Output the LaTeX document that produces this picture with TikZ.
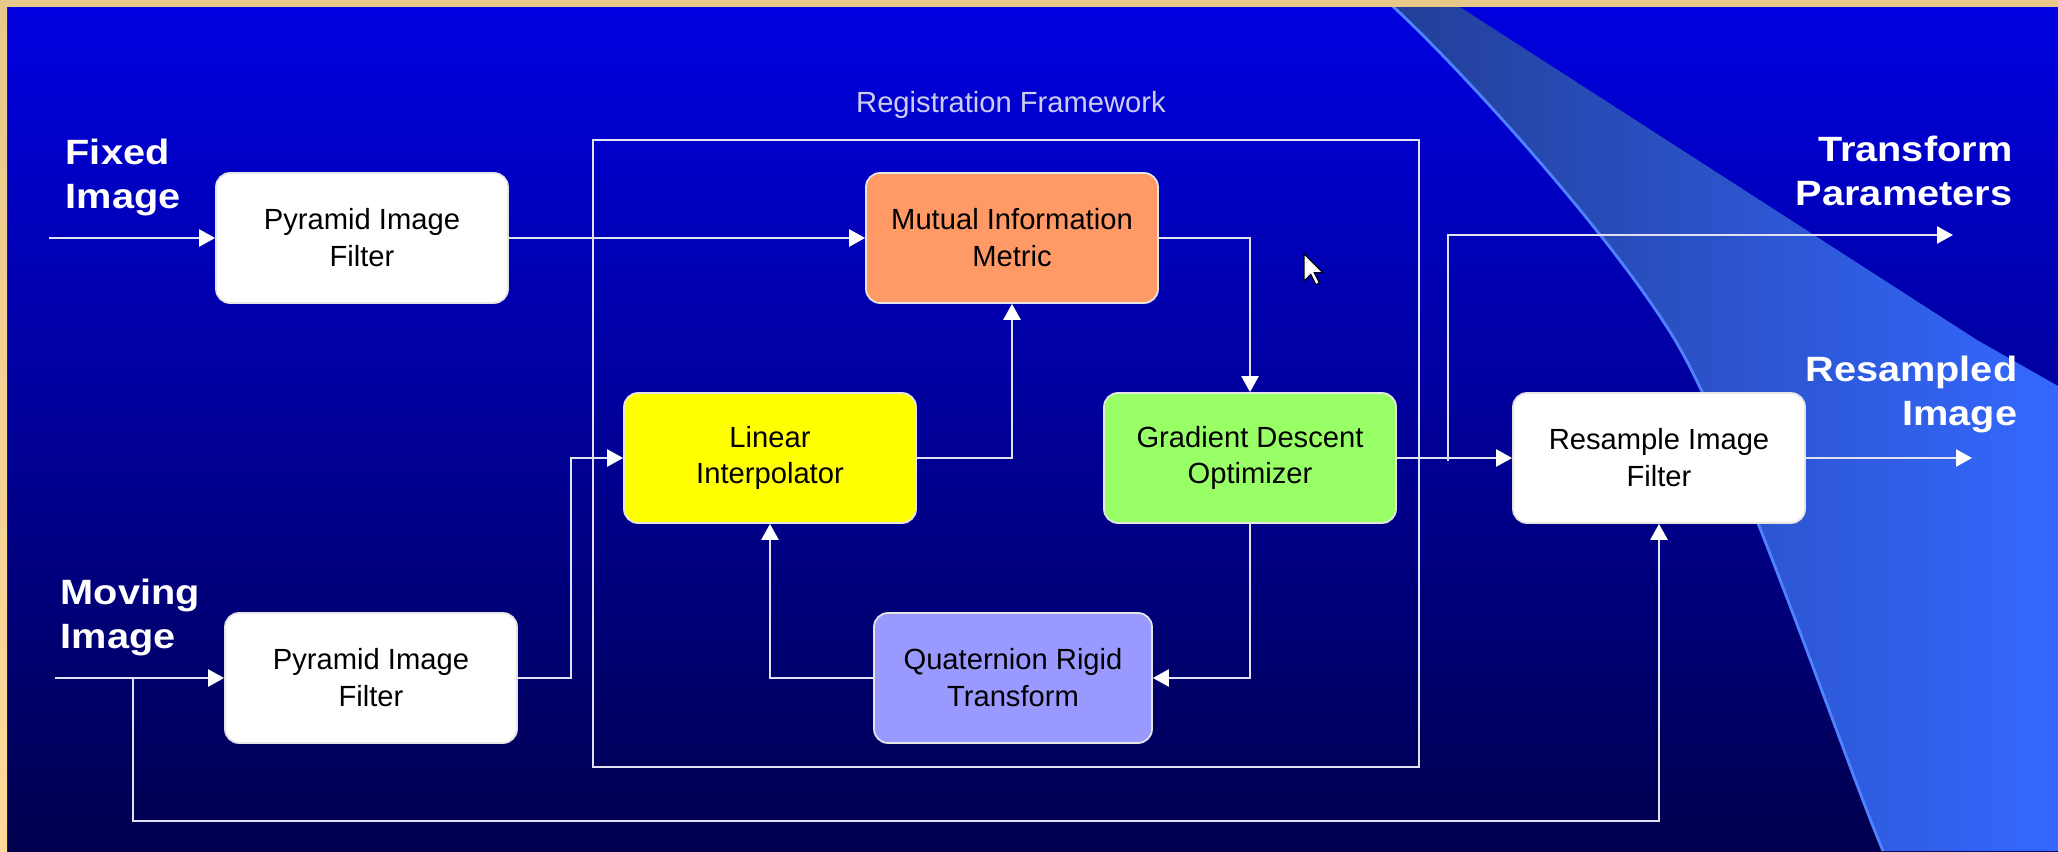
\documentclass[tikz,border=0pt]{standalone}
\usepackage{fontspec}
\setmainfont{Liberation Sans}
\newfontfamily\labelfont[FakeStretch=1.13]{Liberation Sans}
\usetikzlibrary{arrows.meta,calc}

\definecolor{bgtop}{RGB}{0,0,226}
\definecolor{bgbot}{RGB}{0,0,78}
\definecolor{framebeige}{RGB}{232,201,138}
\definecolor{framelight}{RGB}{255,218,155}
\definecolor{swdark}{RGB}{34,62,150}
\definecolor{swlight}{RGB}{52,104,255}
\definecolor{swedge}{RGB}{80,130,255}
\definecolor{wireclr}{RGB}{225,225,242}
\definecolor{fwtext}{RGB}{205,205,240}
\definecolor{metricclr}{RGB}{255,153,102}
\definecolor{interpclr}{RGB}{255,255,0}
\definecolor{optimclr}{RGB}{153,255,102}
\definecolor{rigidclr}{RGB}{153,153,255}

\begin{document}
\begin{tikzpicture}[
    block/.style={draw=gray!20, line width=0.5pt, rounded corners=0.14cm,
        minimum width=2.92cm, minimum height=1.30cm, align=center,
        inner sep=0pt, text=black, font=\fontsize{8.3}{10.5}\selectfont},
    wire/.style={draw=wireclr, line width=0.7pt},
    flow/.style={wire, -{Triangle[length=1.6mm,width=1.7mm,color=white]}},
    biglabel/.style={text=white, inner sep=0pt,
        font=\labelfont\bfseries\fontsize{10}{12.5}\selectfont}
]
    \useasboundingbox (0,0) rectangle (20.58,8.51);

    % slide background
    \shade[top color=bgtop, bottom color=bgbot] (0,0) rectangle (20.58,8.51);
    \shade[left color=swdark, right color=swlight]
        (13.86,8.51) .. controls (14.60,7.84) and (16.13,6.14) .. (16.75,5.11)
        .. controls (17.37,4.08) and (18.44,0.92) .. (18.83,0)
        -- (20.58,0) -- (20.58,4.65) -- (19.77,5.11) -- (14.49,8.51) -- cycle;
    \draw[swedge, line width=0.8pt]
        (13.86,8.51) .. controls (14.60,7.84) and (16.13,6.14) .. (16.75,5.11)
        .. controls (17.37,4.08) and (18.44,0.92) .. (18.83,0);
    \fill[framebeige] (0,8.44) rectangle (20.58,8.51);
    \shade[top color=framebeige, bottom color=framelight] (0,0) rectangle (0.07,8.51);

    % registration framework
    \draw[wire] (5.93,0.84) rectangle (14.19,7.11);
    \node[anchor=base, text=fwtext, font=\fontsize{8.3}{10}\selectfont] (fwlabel) at (10.11,7.38) {Registration Framework};

    \node[block, fill=white] (pyrfix) at (3.62,6.13) {Pyramid Image\\Filter};
    \node[block, fill=white] (pyrmov) at (3.71,1.73) {Pyramid Image\\Filter};
    \node[block, fill=metricclr] (metric) at (10.12,6.13) {Mutual Information\\Metric};
    \node[block, fill=interpclr] (interp) at (7.70,3.93) {Linear\\Interpolator};
    \node[block, fill=optimclr] (optim) at (12.50,3.93) {Gradient Descent\\Optimizer};
    \node[block, fill=rigidclr, minimum width=2.78cm] (rigid) at (10.13,1.73) {Quaternion Rigid\\Transform};
    \node[block, fill=white] (resample) at (16.59,3.93) {Resample Image\\Filter};

    \coordinate (fixin) at (0.49,6.13);
    \coordinate (movin) at (0.55,1.73);
    \coordinate (movtap) at (1.33,1.73);
    \coordinate (movlow) at (1.33,0.30);
    \coordinate (paramtap) at (14.48,3.90);
    \coordinate (paramout) at (19.53,6.16);
    \coordinate (imgout) at (19.72,3.93);

    \draw[flow] (fixin) -- (pyrfix.west);
    \draw[flow] (pyrfix.east) -- (metric.west);
    \draw[flow] (metric.east) -| (optim.north);
    \draw[flow] (interp.east) -| (metric.south);
    \draw[flow] (optim.south) |- (rigid.east);
    \draw[flow] (rigid.west) -| (interp.south);
    \draw[flow] (movin) -- (pyrmov.west);
    \draw[flow] (pyrmov.east) -- ++(0.53,0) |- (interp.west);
    \draw[flow] (optim.east) -- (resample.west);
    \draw[flow] (paramtap) |- (paramout);
    \draw[flow] (resample.east) -- (imgout);
    \draw[flow] (movtap) -- (movlow) -| (resample.south);

    \node[biglabel, anchor=north west, align=left] (fixlbl) at (0.65,7.13) {Fixed\\Image};
    \node[biglabel, anchor=north west, align=left] (movlbl) at (0.60,2.73) {Moving\\Image};
    \node[biglabel, anchor=north east, align=right] (paramlbl) at (20.13,7.16) {Transform\\Parameters};
    \node[biglabel, anchor=north east, align=right] (imglbl) at (20.18,4.96) {Resampled\\Image};

    % mouse pointer
    \begin{scope}[shift={(13.04,5.97)}, scale=0.017]
        \filldraw[fill=white, draw=black, line width=0.3pt] (0,0) -- (0,-16) -- (4,-12) -- (7,-18) -- (9,-17) -- (6,-11) -- (11,-11) -- cycle;
    \end{scope}
\end{tikzpicture}
\end{document}
